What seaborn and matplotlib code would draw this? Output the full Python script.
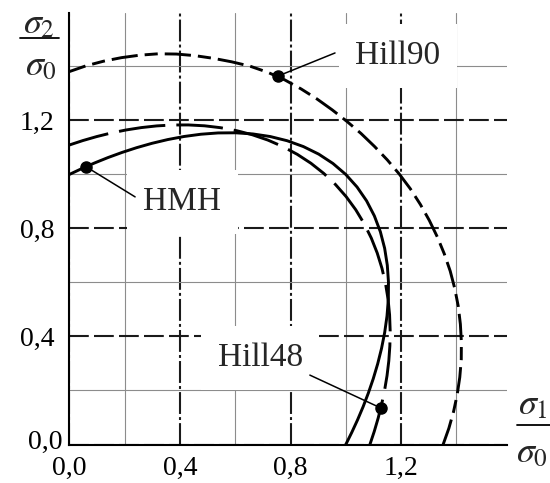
import numpy as np
import matplotlib
matplotlib.use("Agg")
import matplotlib.pyplot as plt
from matplotlib.lines import Line2D
from matplotlib.transforms import ScaledTranslation
import seaborn as sns

# Yield loci in the first quadrant, given as radius (sigma/sigma0) per loading angle
angles_deg = [0, 2.5, 5, 7.5, 10, 12.5, 15, 17.5, 20, 22.5, 25, 27.5, 30, 32.5, 35, 37.5,
              40, 42.5, 45, 47.5, 50, 52.5, 55, 57.5, 60, 62.5, 65, 67.5, 70, 72.5, 75,
              77.5, 80, 82.5, 85, 87.5, 90]
hmh_r = [1.0000, 1.0225, 1.0465, 1.0718, 1.0983, 1.1260, 1.1547, 1.1841, 1.2139, 1.2437,
         1.2731, 1.3014, 1.3280, 1.3523, 1.3734, 1.3907, 1.4036, 1.4115, 1.4142, 1.4115,
         1.4036, 1.3907, 1.3734, 1.3523, 1.3280, 1.3014, 1.2731, 1.2437, 1.2139, 1.1841,
         1.1547, 1.1260, 1.0983, 1.0718, 1.0465, 1.0225, 1.0000]
hill48_r = [1.0872, 1.1039, 1.1213, 1.1393, 1.1579, 1.1770, 1.1963, 1.2156, 1.2349, 1.2538,
            1.2721, 1.2895, 1.3056, 1.3203, 1.3332, 1.3439, 1.3524, 1.3583, 1.3615, 1.3619,
            1.3596, 1.3544, 1.3467, 1.3367, 1.3244, 1.3103, 1.2945, 1.2775, 1.2594, 1.2407,
            1.2215, 1.2021, 1.1828, 1.1637, 1.1449, 1.1267, 1.1091]
hill90_r = [1.352, 1.374, 1.395, 1.415, 1.434, 1.452, 1.468, 1.483, 1.497, 1.509,
            1.520, 1.529, 1.537, 1.544, 1.550, 1.555, 1.558, 1.560, 1.561, 1.562,
            1.562, 1.562, 1.562, 1.561, 1.559, 1.554, 1.546, 1.534, 1.522, 1.510,
            1.497, 1.482, 1.464, 1.445, 1.425, 1.404, 1.381]

# Callouts: marked point on each curve, end of leader line, label position
labels = ["HMH", "Hill48", "Hill90"]
mark_x = [0.060, 1.127, 0.756]
mark_y = [1.029, 0.135, 1.365]
lead_x = [0.238, 0.870, 0.961]
lead_y = [0.917, 0.257, 1.450]
text_x = [0.409, 0.690, 1.188]
text_y = [0.898, 0.320, 1.439]

tick_vals = [0.0, 0.4, 0.8, 1.2]
tick_labels = ["0,0", "0,4", "0,8", "1,2"]
minor_vals = [0.2, 0.6, 1.0, 1.4]

sns.set_style("white")
plt.rcParams["font.family"] = ["Liberation Serif", "DejaVu Serif"]
plt.rcParams["mathtext.fontset"] = "stix"

W, H = 550, 483
fig = plt.figure(figsize=(W / 100, H / 100), dpi=100)
ax = fig.add_axes([69.3 / W, (H - 444.5) / H, (507 - 69.3) / W, (444.5 - 13) / H])
ax.set_xlim(0, 1.583)
ax.set_ylim(0, 1.598)

def polar_xy(radii):
    th = np.radians(angles_deg)
    r = np.asarray(radii)
    return r * np.cos(th), r * np.sin(th)

LW = 2.1
x, y = polar_xy(hmh_r)
sns.lineplot(x=x, y=y, sort=False, estimator=None, color="black", lw=LW,
             ax=ax, zorder=5)
x, y = polar_xy(hill48_r)
sns.lineplot(x=x, y=y, sort=False, estimator=None, color="black", lw=LW,
             linestyle=(0, (16.0, 3.8)), ax=ax, zorder=5)
x, y = polar_xy(hill90_r)
sns.lineplot(x=x, y=y, sort=False, estimator=None, color="black", lw=LW,
             linestyle=(0, (9.0, 2.4, 4.5, 2.4)), ax=ax, zorder=5)

# Markers, leader lines and labels
for lab, mx, my, lx, ly, tx, ty in zip(labels, mark_x, mark_y, lead_x, lead_y, text_x, text_y):
    ax.plot([mx, lx], [my, ly], color="black", lw=1.1, zorder=6)
    ax.plot([mx], [my], marker="o", ms=8, color="black", zorder=7)
    ax.text(tx, ty, lab, fontsize=24, ha="center", va="center", zorder=4,
            bbox=dict(boxstyle="square,pad=0.5", fc="white", ec="none"))

# Grid: dash-dot verticals and dashed horizontals at major ticks, thin grey at minor ticks
ax.set_xticks(tick_vals)
ax.set_xticklabels(tick_labels)
ax.set_yticks(tick_vals)
ax.set_yticklabels(tick_labels)
ax.set_xticks(minor_vals, minor=True)
ax.set_yticks(minor_vals, minor=True)
ax.set_axisbelow(True)
ax.xaxis.grid(True, which="major", color="#1a1a1a", lw=1.5,
              linestyle=(0, (10.5, 1.5, 1.4, 1.5)))
ax.yaxis.grid(True, which="major", color="#1a1a1a", lw=1.5, linestyle=(0, (9.5, 2.5)))
ax.grid(True, which="minor", color="#8c8c8c", lw=0.8)

for side in ["top", "right"]:
    ax.spines[side].set_visible(False)
for side in ["left", "bottom"]:
    ax.spines[side].set_linewidth(1.5)
    ax.spines[side].set_color("black")
    ax.spines[side].set_zorder(8)

ax.tick_params(which="major", length=4, width=1.5, direction="out", colors="black",
               labelsize=20)
ax.tick_params(axis="x", which="major", pad=4)
ax.tick_params(axis="y", which="major", pad=7)
ax.tick_params(which="minor", length=0)

# Nudge the origin label on the vertical axis clear of the horizontal one
first = ax.get_yticklabels()[0]
first.set_transform(first.get_transform() + ScaledTranslation(8 / 100, 5 / 100, fig.dpi_scale_trans))

# Axis titles as stacked fractions
def fig_pt(px, py):
    return px / W, 1 - py / H

fig.text(*fig_pt(39, 33), r"$\sigma_2$", fontsize=26, ha="center", va="baseline")
fig.add_artist(Line2D([20 / W, 59 / W], [1 - 38 / H, 1 - 38 / H], color="black", lw=1.3))
fig.text(*fig_pt(41, 75), r"$\sigma_0$", fontsize=26, ha="center", va="baseline")

fig.text(*fig_pt(533, 414), r"$\sigma_1$", fontsize=26, ha="center", va="baseline")
fig.add_artist(Line2D([517 / W, 550 / W], [1 - 425 / H, 1 - 425 / H], color="black", lw=1.3))
fig.text(*fig_pt(532, 462), r"$\sigma_0$", fontsize=26, ha="center", va="baseline")

fig.savefig("out.png", dpi=100, facecolor="white")
